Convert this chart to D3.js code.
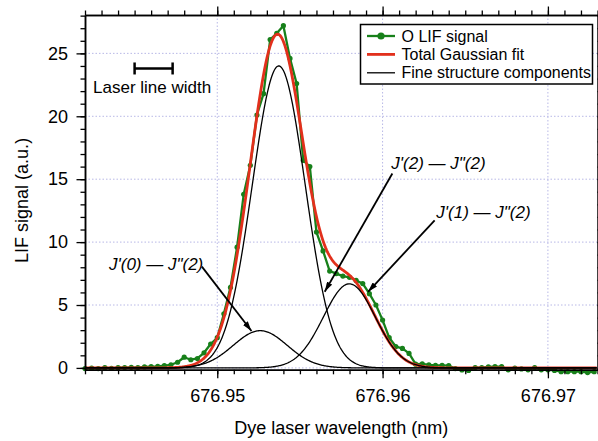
<!DOCTYPE html>
<html>
<head>
<meta charset="utf-8">
<script src="https://cdn.jsdelivr.net/npm/d3@7"></script>
<style>
  body { margin: 0; background: #fff; }
  svg { display: block; font-family: "Liberation Sans", Arial, sans-serif; }
</style>
</head>
<body>
<svg id="chart" width="598" height="441"></svg>
<script>
// Scan: start wavelength + constant step (nm)
const scanStart = 676.942;
const scanStep = 0.0004;

// O LIF signal, one value per scan step
const lifSignal = [
  -0.05, -0.02, -0.05, 0.02, -0.03, 0.02, 0.03, 0.05, 0.03, 0.08,
  0.10, 0.12, 0.18, 0.25, 0.45, 0.85, 0.65, 0.75, 1.2, 1.9,
  2.4, 4.3, 6.4, 9.6, 13.8, 16.1, 20.1, 21.8, 26.1, 26.6,
  27.2, 24.6, 22.6, 16.5, 16.0, 10.8, 9.3, 7.7, 7.5, 7.3,
  7.2, 6.95, 6.7, 5.9, 5.0, 3.8, 2.4, 1.7, 1.55, 1.15,
  0.30, 0.32, 0.24, 0.20, 0.20, 0.18, -0.05, -0.16, -0.20, 0.03,
  0.03, 0.08, 0.10, 0.10, -0.15, -0.02, -0.08, -0.15, 0.03, -0.15,
  -0.15, -0.20, -0.30, -0.30, -0.30, -0.30, -0.37, -0.30
];

// Fine structure Gaussian components (fit parameters)
const compNames = ["J'(0) — J\"(2)", "J'(2) — J\"(2)", "J'(1) — J\"(2)"];
const compCenters = [676.9526, 676.95372, 676.95799];
const compAmps = [2.96, 24.0, 6.68];
const compSigmas = [0.00163, 0.0016, 0.00157];

// Laser line width marker
const laserStart = 676.945;
const laserWidth = 0.0023;
const laserLevel = 23.8;

// Annotation labels: text anchor and arrow (start -> tip), data coords
const annText = [[676.94345, 7.77], [676.96053, 15.8], [676.96325, 11.91]];
const annFrom = [[676.94907, 8.05], [676.96059, 15.45], [676.96315, 11.72]];
const annTip = [[676.95207, 2.93], [676.9565, 6.05], [676.95912, 6.05]];

const xMajor = [676.95, 676.96, 676.97];
const yMajor = [0, 5, 10, 15, 20, 25];

const m = { left: 85, right: 597.5, top: 15, bottom: 369.8 };

const svg = d3.select('#chart');

const x = d3.scaleLinear().domain([676.942, 676.973]).range([m.left, m.right]);
const y = d3.scaleLinear().domain([-0.15, 28.05]).range([m.bottom, m.top]);

const xMinor = d3.range(0, 32).map(i => +(676.942 + i * 0.001).toFixed(3));
const yMinor = d3.range(0, 29);

// grid
const grid = svg.append('g').attr('stroke', '#b8b8e6').attr('stroke-width', 1)
  .attr('stroke-dasharray', '1.5,2');
xMajor.forEach(v => grid.append('line')
  .attr('x1', x(v)).attr('x2', x(v)).attr('y1', m.top).attr('y2', m.bottom));
yMajor.forEach(v => grid.append('line')
  .attr('x1', m.left).attr('x2', m.right).attr('y1', y(v)).attr('y2', y(v)));

// data
const pts = lifSignal.map((v, i) => [scanStart + i * scanStep, v]);
const gauss = (k, w) => compAmps[k] * Math.exp(-((w - compCenters[k]) ** 2) / (2 * compSigmas[k] ** 2));
const fineW = d3.range(676.942, 676.973, 0.00005);

const line = d3.line().x(d => x(d[0])).y(d => y(d[1]));
const plot = svg.append('g');

plot.append('path').datum(pts).attr('d', line)
  .attr('fill', 'none').attr('stroke', '#17801a').attr('stroke-width', 2.3)
  .attr('stroke-linejoin', 'round');
plot.selectAll('circle.pt').data(pts).enter().append('circle')
  .attr('class', 'pt').attr('cx', d => x(d[0])).attr('cy', d => y(d[1]))
  .attr('r', 2.6).attr('fill', '#17801a');

const total = fineW.map(w => [w, d3.sum(compAmps, (a, k) => gauss(k, w))]);
plot.append('path').datum(total).attr('d', line)
  .attr('fill', 'none').attr('stroke', '#e2301c').attr('stroke-width', 2.8);

compAmps.forEach((a, k) => {
  plot.append('path').datum(fineW.map(w => [w, gauss(k, w)])).attr('d', line)
    .attr('fill', 'none').attr('stroke', '#000').attr('stroke-width', 1.3);
});

// axes
function ax(gen, tx, ty, vals, size, labels) {
  const g = svg.append('g').attr('transform', `translate(${tx},${ty})`)
    .call(gen.tickValues(vals).tickSize(size).tickSizeOuter(0)
      .tickFormat(labels ? labels : ''));
  g.select('.domain').attr('stroke-width', 1.5);
  g.selectAll('.tick line').attr('stroke-width', 1.3);
  g.selectAll('.tick text').attr('font-size', 18).attr('fill', '#000')
    .attr('font-family', '"Liberation Sans", Arial, sans-serif');
  return g;
}
ax(d3.axisBottom(x), 0, m.bottom, xMinor, 4.5, null);
ax(d3.axisBottom(x), 0, m.bottom, xMajor, 8.5, d3.format('.2f')).selectAll('.tick text').attr('dy', '1.15em');
ax(d3.axisTop(x), 0, m.top, xMinor, 4.5, null);
ax(d3.axisTop(x), 0, m.top, xMajor, 8.5, null);
ax(d3.axisLeft(y), m.left, 0, yMinor, 4.5, null);
ax(d3.axisLeft(y), m.left, 0, yMajor, 8.5, d3.format('d')).selectAll('.tick text').attr('dx', '-0.3em');
ax(d3.axisRight(y), m.right, 0, yMinor, 4.5, null);

// axis titles
svg.append('text').attr('x', (m.left + m.right) / 2).attr('y', 434)
  .attr('text-anchor', 'middle').attr('font-size', 18).text('Dye laser wavelength (nm)');
svg.append('text').attr('transform', `translate(28,${(m.top + m.bottom) / 2 + 8}) rotate(-90)`)
  .attr('text-anchor', 'middle').attr('font-size', 18).text('LIF signal (a.u.)');

// laser line width bar
const lb = svg.append('g').attr('stroke', '#000').attr('stroke-width', 2.5);
const lx0 = x(laserStart), lx1 = x(laserStart + laserWidth), ly = y(laserLevel);
lb.append('line').attr('x1', lx0).attr('x2', lx1).attr('y1', ly).attr('y2', ly);
lb.append('line').attr('x1', lx0).attr('x2', lx0).attr('y1', ly - 6).attr('y2', ly + 6);
lb.append('line').attr('x1', lx1).attr('x2', lx1).attr('y1', ly - 6).attr('y2', ly + 6);
svg.append('text').attr('x', (lx0 + lx1) / 2 - 1.5).attr('y', ly + 25)
  .attr('text-anchor', 'middle').attr('font-size', 17).text('Laser line width');

// annotations
svg.append('defs').append('marker').attr('id', 'arr')
  .attr('viewBox', '0 0 10 6').attr('refX', 10).attr('refY', 3)
  .attr('markerWidth', 10).attr('markerHeight', 6).attr('markerUnits', 'userSpaceOnUse')
  .attr('orient', 'auto')
  .append('path').attr('d', 'M0,0L10,3L0,6Z').attr('fill', '#000');
compNames.forEach((name, k) => {
  svg.append('text').attr('x', x(annText[k][0])).attr('y', y(annText[k][1]))
    .attr('font-size', 17).attr('font-style', 'italic').text(name);
  svg.append('line')
    .attr('x1', x(annFrom[k][0])).attr('y1', y(annFrom[k][1]))
    .attr('x2', x(annTip[k][0])).attr('y2', y(annTip[k][1]))
    .attr('stroke', '#000').attr('stroke-width', 1.8).attr('marker-end', 'url(#arr)');
});

// legend
const lg = svg.append('g');
lg.append('rect').attr('x', 360.5).attr('y', 24.5).attr('width', 232).attr('height', 59.5)
  .attr('fill', '#fff').attr('stroke', '#000').attr('stroke-width', 1.5);
const legendItems = [
  { label: 'O LIF signal', color: '#17801a', w: 2.3, dot: true },
  { label: 'Total Gaussian fit', color: '#e2301c', w: 2.8, dot: false },
  { label: 'Fine structure components', color: '#000', w: 1.3, dot: false }
];
legendItems.forEach((it, i) => {
  const cy = 36 + i * 18.4;
  lg.append('line').attr('x1', 367).attr('x2', 395).attr('y1', cy).attr('y2', cy)
    .attr('stroke', it.color).attr('stroke-width', it.w);
  if (it.dot) lg.append('circle').attr('cx', 381).attr('cy', cy).attr('r', 3.6).attr('fill', it.color);
  lg.append('text').attr('x', 401.5).attr('y', cy + 5.6).attr('font-size', 16).text(it.label);
});
</script>
</body>
</html>
